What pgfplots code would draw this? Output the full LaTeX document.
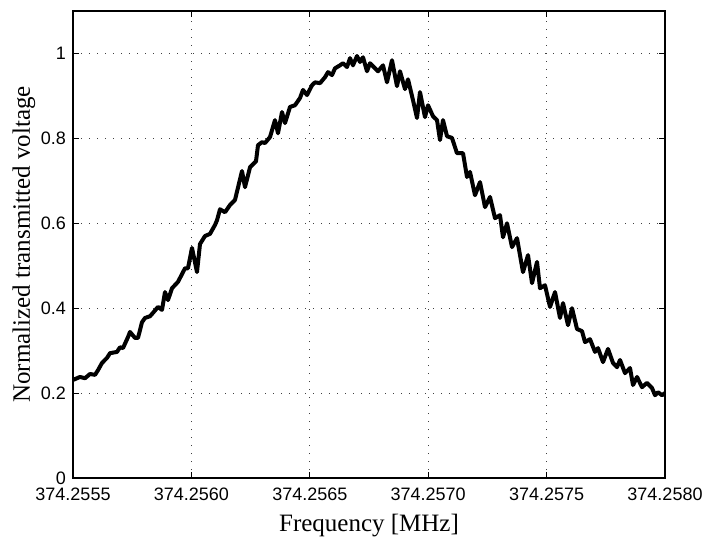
\documentclass[border=0pt]{standalone}
\usepackage{pgfplots}
\pgfplotsset{compat=1.18}
\usepackage{fontspec}
\setmainfont{Liberation Sans}
\newfontfamily\timesfont{Liberation Serif}
\pgfplotstableread{
x y
0.000 0.231
0.296 0.238
0.507 0.235
0.718 0.245
0.929 0.243
1.056 0.254
1.225 0.271
1.436 0.283
1.563 0.294
1.858 0.297
1.985 0.308
2.111 0.306
2.323 0.332
2.407 0.344
2.618 0.330
2.745 0.330
2.914 0.367
3.041 0.377
3.252 0.381
3.378 0.389
3.590 0.403
3.758 0.396
3.885 0.438
4.012 0.419
4.181 0.447
4.434 0.462
4.730 0.494
4.856 0.494
5.025 0.542
5.236 0.485
5.363 0.551
5.574 0.570
5.785 0.575
5.997 0.596
6.081 0.607
6.208 0.633
6.419 0.626
6.630 0.643
6.841 0.655
7.137 0.723
7.264 0.685
7.475 0.732
7.728 0.746
7.813 0.784
7.981 0.791
8.108 0.789
8.319 0.803
8.530 0.843
8.657 0.812
8.826 0.862
8.953 0.836
9.164 0.874
9.375 0.878
9.586 0.895
9.713 0.914
9.882 0.902
10.093 0.925
10.220 0.932
10.431 0.930
10.642 0.944
10.769 0.956
10.938 0.949
11.064 0.965
11.275 0.972
11.402 0.977
11.571 0.968
11.698 0.989
11.824 0.972
11.993 0.994
12.120 0.980
12.247 0.991
12.416 0.958
12.542 0.977
12.753 0.965
12.880 0.958
13.091 0.972
13.260 0.932
13.471 0.984
13.682 0.923
13.809 0.958
14.020 0.916
14.147 0.939
14.358 0.890
14.527 0.848
14.654 0.909
14.865 0.850
14.992 0.878
15.203 0.852
15.372 0.843
15.498 0.796
15.625 0.843
15.794 0.805
16.005 0.801
16.216 0.765
16.470 0.765
16.639 0.709
16.765 0.721
16.976 0.666
17.188 0.697
17.399 0.638
17.610 0.662
17.821 0.612
18.032 0.619
18.159 0.567
18.328 0.600
18.539 0.544
18.750 0.565
19.003 0.485
19.215 0.525
19.384 0.459
19.595 0.509
19.721 0.447
19.932 0.454
20.144 0.403
20.355 0.438
20.566 0.377
20.693 0.412
20.904 0.360
21.073 0.400
21.284 0.351
21.495 0.346
21.622 0.320
21.833 0.327
22.044 0.297
22.171 0.306
22.382 0.273
22.593 0.304
22.804 0.271
22.973 0.261
23.100 0.278
23.311 0.247
23.522 0.259
23.649 0.219
23.818 0.238
24.029 0.214
24.240 0.224
24.451 0.212
24.578 0.195
24.704 0.202
24.873 0.195
25.000 0.200
}\datatable
\begin{document}
\begin{tikzpicture}
\begin{axis}[
  scale only axis, width=296pt, height=233.5pt,
  xmin=0, xmax=25, ymin=0, ymax=1.1,
  xtick={0,5,10,15,20,25},
  xticklabels={374.2555,374.2560,374.2565,374.2570,374.2575,374.2580},
  ytick={0,0.2,0.4,0.6,0.8,1},
  yticklabels={0,0.2,0.4,0.6,0.8,1},
  /pgf/number format/assume math mode=true,
  tick align=inside, tick pos=both, major tick length=3pt,
  tick style={black, line width=0.5pt},
  grid=major,
  major grid style={black!75, line width=0.45pt, dash pattern=on 0.5pt off 3.5pt},
  axis line style={line width=0.65pt},
  ticklabel style={font=\fontsize{9}{10}\selectfont},
  xticklabel style={yshift=-1.5pt},
  xlabel={Frequency [MHz]},
  ylabel={Normalized transmitted voltage},
  label style={font=\timesfont\fontsize{12.5}{14}\selectfont},
  xlabel style={yshift=0pt},
  ylabel style={yshift=-4pt},
]
\addplot[black, line width=2pt, line join=round] table[x=x,y=y] {\datatable};
\end{axis}
\pgfresetboundingbox
\path[use as bounding box] ([shift={(-36.5pt,-31.5pt)}]current axis.south west) rectangle ([shift={(19.5pt,5.5pt)}]current axis.north east);
\end{tikzpicture}
\end{document}
